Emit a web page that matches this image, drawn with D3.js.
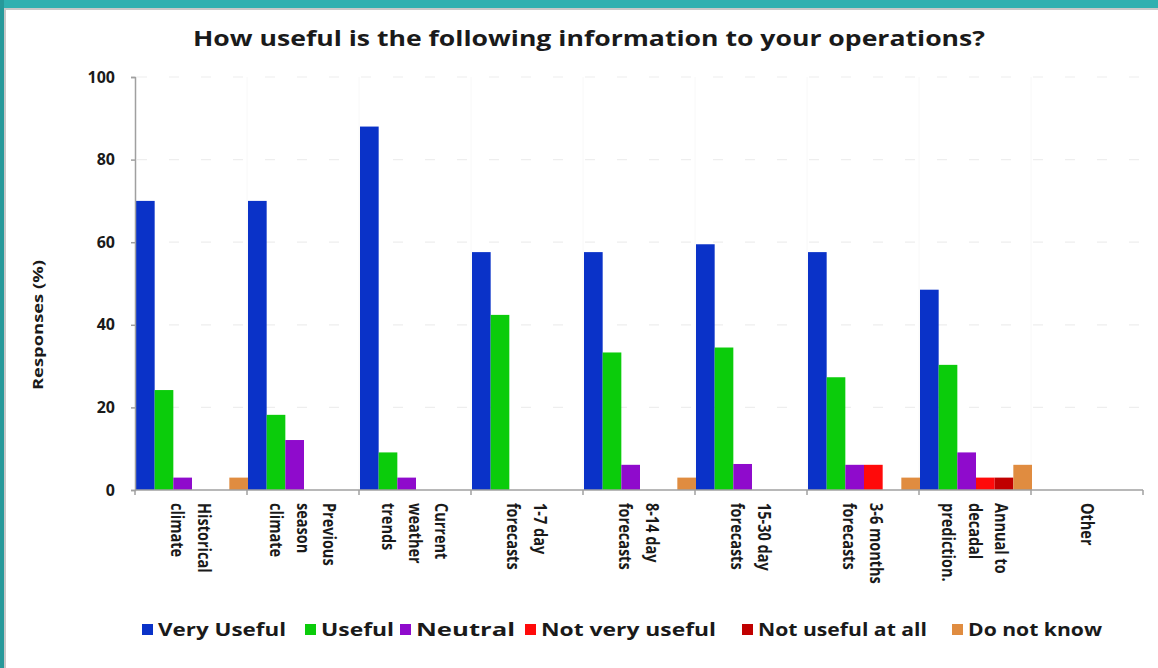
<!DOCTYPE html>
<html><head><meta charset="utf-8">
<script src="https://cdn.jsdelivr.net/npm/d3@7"></script>
<style>
html,body{margin:0;padding:0;background:#fff;}
svg{display:block;}
text{font-family:"Open Sans","DejaVu Sans",sans-serif;font-weight:bold;fill:#1a1a1a;}
</style></head>
<body>
<script>
const categories = [
  ["Historical","climate"],
  ["Previous","season","climate"],
  ["Current","weather","trends"],
  ["1-7 day","forecasts"],
  ["8-14 day","forecasts"],
  ["15-30 day","forecasts"],
  ["3-6 months","forecasts"],
  ["Annual to","decadal","prediction."],
  ["Other"]
];
const seriesNames = ["Very Useful","Useful","Neutral","Not very useful","Not useful at all","Do not know"];
const seriesColors = ["#0a32c8","#0bcc0b","#8f0bcc","#ff0a0a","#c00000","#e08c40"];
const veryUseful   = [70, 70, 88, 57.6, 57.6, 59.5, 57.6, 48.5, 0];
const useful       = [24.2, 18.2, 9.1, 42.4, 33.3, 34.5, 27.3, 30.3, 0];
const neutral      = [3, 12.1, 3, 0, 6.1, 6.3, 6.1, 9.1, 0];
const notVery      = [0, 0, 0, 0, 0, 0, 6.1, 3, 0];
const notAtAll     = [0, 0, 0, 0, 0, 0, 0, 3, 0];
const doNotKnow    = [3, 0, 0, 0, 3, 0, 3, 6.1, 0];
const yTicks = [0, 20, 40, 60, 80, 100];
const titleText = "How useful is the following information to your operations?";
const yTitle = "Responses (%)";

const values = [veryUseful, useful, neutral, notVery, notAtAll, doNotKnow];
const W = 1158, H = 668;
const svg = d3.select("body").append("svg").attr("width", W).attr("height", H);

// frame
svg.append("rect").attr("x",0).attr("y",0).attr("width",W).attr("height",H).attr("fill","#fff");
svg.append("rect").attr("x",0).attr("y",0).attr("width",W).attr("height",8).attr("fill","#30b0b0");
svg.append("rect").attr("x",0).attr("y",0).attr("width",4).attr("height",H).attr("fill","#27999a");
svg.append("rect").attr("x",4).attr("y",8).attr("width",W-4).attr("height",2).attr("fill","#c8c8c8");
svg.append("rect").attr("x",4).attr("y",8).attr("width",2).attr("height",H-8).attr("fill","#c8c8c8");

const x0 = 135, x1 = 1143, yTop = 77, yBot = 490;
const catIdx = categories.map((d,i)=>i);
const xScale = d3.scaleBand().domain(catIdx).range([x0, x1]).padding(0);
const xInner = d3.scaleBand().domain(d3.range(seriesNames.length)).range([0, xScale.bandwidth()]).padding(0);
const yScale = d3.scaleLinear().domain([0, 100]).range([yBot, yTop]);

// faint gridlines
const grid = svg.append("g");
grid.selectAll("line.h").data(yTicks.filter(t=>t>0)).join("line")
  .attr("x1", x0+2).attr("x2", x1).attr("y1", d=>yScale(d)).attr("y2", d=>yScale(d))
  .attr("stroke","#eeeeee").attr("stroke-dasharray","10,22").attr("stroke-width",1.2);
grid.selectAll("line.v").data(catIdx.slice(1)).join("line")
  .attr("x1", d=>xScale(d)).attr("x2", d=>xScale(d)).attr("y1", yTop).attr("y2", yBot)
  .attr("stroke","#f8f8f8").attr("stroke-width",1);

// bars
const gCat = svg.append("g").selectAll("g").data(catIdx).join("g")
  .attr("transform", d=>`translate(${xScale(d)},0)`);
gCat.selectAll("rect").data(ci => values.map((arr, si) => ({si, v: arr[ci]}))).join("rect")
  .attr("x", d=>xInner(d.si)+1).attr("width", xInner.bandwidth())
  .attr("y", d=>yScale(d.v)).attr("height", d=>yBot - yScale(d.v))
  .attr("fill", d=>seriesColors[d.si]);

// y axis
const yAxis = svg.append("g").attr("transform", `translate(${x0},0)`)
  .call(d3.axisLeft(yScale).tickValues(yTicks).tickSize(4).tickPadding(16).tickFormat(d3.format("d")));
yAxis.select(".domain").attr("stroke","#a0a0a0").attr("stroke-width",1.5);
yAxis.selectAll(".tick line").attr("stroke","#a0a0a0").attr("stroke-width",1.5);
yAxis.selectAll(".tick text").attr("font-size",16).attr("font-family","'Open Sans',sans-serif").attr("font-weight","bold").attr("fill","#1a1a1a");

// x axis line and boundary ticks
svg.append("line").attr("x1", x0).attr("x2", x1).attr("y1", yBot).attr("y2", yBot)
  .attr("stroke","#a0a0a0").attr("stroke-width",1.5);
svg.append("g").selectAll("line").data(catIdx.concat([categories.length])).join("line")
  .attr("x1", d=> d<categories.length ? xScale(d) : x1).attr("x2", d=> d<categories.length ? xScale(d) : x1)
  .attr("y1", yBot).attr("y2", yBot+5).attr("stroke","#a0a0a0").attr("stroke-width",1.5);

// x labels (rotated, reading downward)
const lh = 22, sx = 1.22;
const xl = svg.append("g").selectAll("g").data(catIdx).join("g")
  .attr("transform", d=>`translate(${xScale(d)+xScale.bandwidth()/2},503) rotate(90) scale(1,${sx})`);
xl.each(function(ci){
  const lines = categories[ci];
  const t = d3.select(this).append("text").attr("font-size",14.5).attr("text-anchor","start");
  lines.forEach((ln, k) => {
    t.append("tspan").attr("x",0).attr("y", (k - (lines.length-1)/2) * lh).attr("dy","0.36em").text(ln);
  });
});

// title
svg.append("text").attr("x", 589).attr("y", 46).attr("text-anchor","middle")
  .attr("font-size",21).attr("textLength",792).attr("lengthAdjust","spacingAndGlyphs").text(titleText);

// y title
svg.append("text").attr("transform","translate(43,325) rotate(-90)").attr("text-anchor","middle")
  .attr("font-size",15).attr("textLength",130).attr("lengthAdjust","spacingAndGlyphs").text(yTitle);

// legend
const legX = [142, 305, 400, 525, 742, 952];
const legTextEnd = [286, 394, 515, 716, 927, 1102];
const leg = svg.append("g").selectAll("g").data(seriesNames).join("g");
leg.append("rect").attr("x",(d,i)=>legX[i]).attr("y",624).attr("width",11).attr("height",11)
  .attr("fill",(d,i)=>seriesColors[i]);
leg.append("text").attr("x",(d,i)=>legX[i]+16).attr("y",636).attr("font-size",17)
  .attr("textLength",(d,i)=>legTextEnd[i]-(legX[i]+16)).attr("lengthAdjust","spacingAndGlyphs")
  .text(d=>d);
</script>
</body></html>
